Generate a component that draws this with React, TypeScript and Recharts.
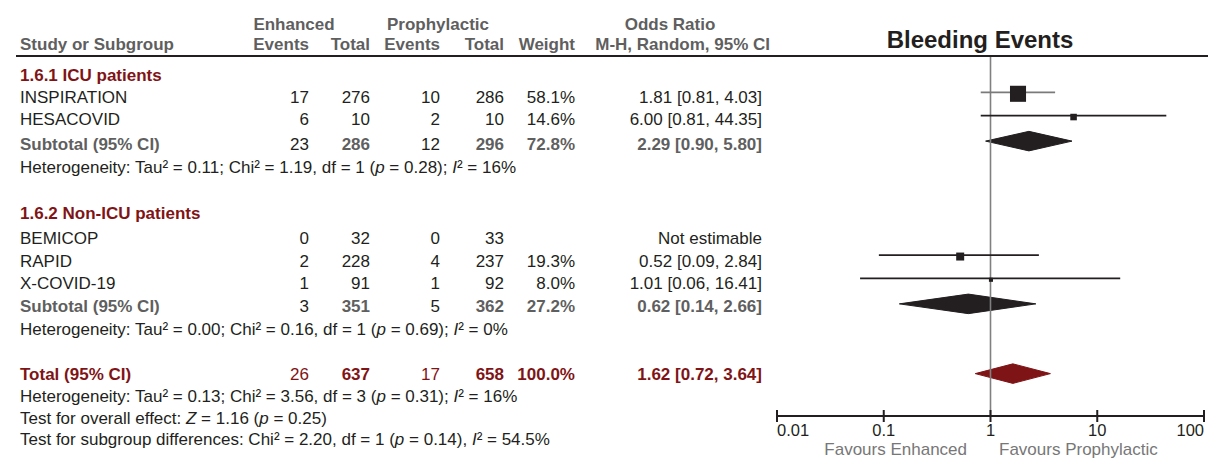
import React from 'react';
import {
  ComposedChart,
  XAxis,
  YAxis,
  Scatter,
  Area,
  ReferenceLine,
} from 'recharts';

// ---- Study-level data ----
const studyNames = ['INSPIRATION', 'HESACOVID', 'BEMICOP', 'RAPID', 'X-COVID-19'];
const studyGroup = [0, 0, 1, 1, 1];
const studyRow = [1, 2, 7, 8, 9];
const enhEvents = [17, 6, 0, 2, 1];
const enhTotal = [276, 10, 32, 228, 91];
const proEvents = [10, 2, 0, 4, 1];
const proTotal = [286, 10, 33, 237, 92];
const studyWeight: (number | null)[] = [58.1, 14.6, null, 19.3, 8.0];
const studyOR: (number | null)[] = [1.81, 6.0, null, 0.52, 1.01];
const studyLow: (number | null)[] = [0.81, 0.81, null, 0.09, 0.06];
const studyHigh: (number | null)[] = [4.03, 44.35, null, 2.84, 16.41];

// ---- Subgroup data ----
const groupNames = ['1.6.1 ICU patients', '1.6.2 Non-ICU patients'];
const groupHeadRow = [0, 6];
const groupSubRow = [3, 10];
const groupHetRow = [4, 11];
const subEnhEvents = [23, 3];
const subEnhTotal = [286, 351];
const subProEvents = [12, 5];
const subProTotal = [296, 362];
const subWeight = [72.8, 27.2];
const subOR = [2.29, 0.62];
const subLow = [0.9, 0.14];
const subHigh = [5.8, 2.66];
const subTau2 = ['0.11', '0.00'];
const subChi2 = ['1.19', '0.16'];
const subDf = ['1', '1'];
const subP = ['0.28', '0.69'];
const subI2 = ['16%', '0%'];

// ---- Overall data ----
const totalRow = 13;
const totalEnh = [26, 637];
const totalPro = [17, 658];
const totalWeight = 100.0;
const totalOR = 1.62;
const totalLow = 0.72;
const totalHigh = 3.64;
const totalHet = { tau2: '0.13', chi2: '3.56', df: '3', p: '0.31', i2: '16%' };
const overallZ = { z: '1.16', p: '0.25' };
const subgroupTest = { chi2: '2.20', df: '1', p: '0.14', i2: '54.5%' };

// ---- Axis ----
const axisTicks = [0.01, 0.1, 1, 10, 100];
const favoursLeft = 'Favours Enhanced';
const favoursRight = 'Favours Prophylactic';
const title = 'Bleeding Events';

// ---- Styling ----
const W = 1208;
const H = 459;
const FONT = '"Liberation Sans", Arial, sans-serif';
const FS = 17;
const DARK = '#231f20';
const GREY = '#5f5f5f';
const RED = '#7f1416';
const MUTED_CI = new Set(['INSPIRATION']);
const DIAMOND_HALF = 0.42; // rows
const DIAMOND_SHIFT = 0.1; // rows

// table row text centre lines (px)
const rowCenter: Record<number, number> = {
  0: 74.5, 1: 96.7, 2: 119.3, 3: 143.5, 4: 166.5,
  6: 212.5, 7: 238.3, 8: 260.5, 9: 283, 10: 306, 11: 329,
  13: 374, 14: 396, 15: 417.5, 16: 439,
};
const base = (r: number) => rowCenter[r] + 6;

// column right edges
const COL = { study: 20, enhE: 309, enhT: 370, proE: 440, proT: 504, weight: 575, or: 762 };

const fmtCI = (o: number, l: number, h: number) =>
  `${o.toFixed(2)} [${l.toFixed(2)}, ${h.toFixed(2)}]`;

type Seg = [string, boolean?];
const SegText = ({ x, y, segs, fill }: { x: number; y: number; segs: Seg[]; fill: string }) => (
  <text x={x} y={y} fontFamily={FONT} fontSize={FS} fill={fill}>
    {segs.map(([t, it], i) => (
      <tspan key={i} fontStyle={it ? 'italic' : 'normal'}>{t}</tspan>
    ))}
  </text>
);

const hetSegs = (tau2: string, chi2: string, df: string, p: string, i2: string): Seg[] => [
  [`Heterogeneity: Tau² = ${tau2}; Chi² = ${chi2}, df = ${df} (`],
  ['p', true],
  [` = ${p}); `],
  ['I', true],
  [`² = ${i2}`],
];

const Cell = ({ x, r, text, fill = DARK, bold = false, anchor = 'end' }: any) => (
  <text
    x={x}
    y={base(r)}
    textAnchor={anchor}
    fontFamily={FONT}
    fontSize={FS}
    fontWeight={bold ? 'bold' : 'normal'}
    fill={fill}
  >
    {text}
  </text>
);

// study squares, side grows with weight
const StudySquare = (props: any) => {
  const { cx, cy, payload } = props;
  const side = Math.max(3.5, 2.5 * Math.sqrt(payload.w) - 3);
  return <rect x={cx - side / 2} y={cy + 1.5 - side / 2} width={side} height={side} fill={DARK} />;
};

const AxisTick = (props: any) => {
  const { x, y, payload } = props;
  const v = payload.value;
  const anchor = v === axisTicks[0] ? 'start' : v === axisTicks[axisTicks.length - 1] ? 'end' : 'middle';
  return (
    <g>
      <line x1={x} x2={x} y1={y - 6} y2={y + 6} stroke={DARK} strokeWidth={2} />
      <text x={x} y={y + 20} textAnchor={anchor} fontFamily={FONT} fontSize={16.5} fill={DARK}>
        {String(v)}
      </text>
    </g>
  );
};

const diamondData = (row: number, o: number, l: number, h: number) => {
  const r = row + DIAMOND_SHIFT;
  return [
    { x: l, y: [r, r] },
    { x: o, y: [r - DIAMOND_HALF, r + DIAMOND_HALF] },
    { x: h, y: [r, r] },
  ];
};

export default function App() {
  const studyPoints = studyNames
    .map((name, i) => ({ name, x: studyOR[i], y: studyRow[i], w: studyWeight[i], lo: studyLow[i], hi: studyHigh[i] }))
    .filter((d) => d.x !== null);

  return (
    <div style={{ position: 'absolute', left: 0, top: 0, width: W, height: H, background: '#fff' }}>
      <ComposedChart
        width={W}
        height={H}
        margin={{ top: 56, right: 4, bottom: 3, left: 777 }}
      >
        <XAxis
          dataKey="x"
          type="number"
          scale="log"
          domain={[axisTicks[0], axisTicks[axisTicks.length - 1]]}
          allowDataOverflow
          ticks={axisTicks}
          interval={0}
          height={40}
          tickSize={0}
          tickMargin={0}
          tickLine={false}
          axisLine={{ stroke: DARK, strokeWidth: 2 }}
          tick={<AxisTick />}
        />
        <YAxis dataKey="y" type="number" domain={[-0.561, 14.923]} reversed hide allowDataOverflow />
        <ReferenceLine x={1} stroke="#808080" strokeWidth={1.6} />
        {studyPoints.map((d) => (
          <ReferenceLine
            key={`ci-${d.name}`}
            segment={[{ x: d.lo as number, y: d.y }, { x: d.hi as number, y: d.y }]}
            stroke={MUTED_CI.has(d.name) ? '#7a7a7a' : DARK}
            strokeWidth={1.8}
          />
        ))}
        <Scatter data={studyPoints} shape={<StudySquare />} isAnimationActive={false} />
        {groupNames.map((g, i) => (
          <Area
            key={`sub-${g}`}
            data={diamondData(groupSubRow[i], subOR[i], subLow[i], subHigh[i])}
            dataKey="y"
            type="linear"
            stroke={DARK}
            strokeWidth={1}
            fill={DARK}
            fillOpacity={1}
            dot={false}
            activeDot={false}
            isAnimationActive={false}
          />
        ))}
        <Area
          data={diamondData(totalRow, totalOR, totalLow, totalHigh)}
          dataKey="y"
          type="linear"
          stroke={RED}
          strokeWidth={1}
          fill={RED}
          fillOpacity={1}
          dot={false}
          activeDot={false}
          isAnimationActive={false}
        />
      </ComposedChart>

      <svg
        width={W}
        height={H}
        style={{ position: 'absolute', left: 0, top: 0, pointerEvents: 'none' }}
      >
        {/* column headers */}
        <g fontFamily={FONT} fontSize={FS} fontWeight="bold" fill={GREY}>
          <text x={294} y={29.5} textAnchor="middle">Enhanced</text>
          <text x={438} y={29.5} textAnchor="middle">Prophylactic</text>
          <text x={670} y={29.5} textAnchor="middle">Odds Ratio</text>
          <text x={COL.study} y={50}>Study or Subgroup</text>
          <text x={COL.enhE} y={50} textAnchor="end">Events</text>
          <text x={COL.enhT} y={50} textAnchor="end">Total</text>
          <text x={COL.proE} y={50} textAnchor="end">Events</text>
          <text x={COL.proT} y={50} textAnchor="end">Total</text>
          <text x={COL.weight} y={50} textAnchor="end">Weight</text>
          <text x={770} y={50} textAnchor="end">M-H, Random, 95% CI</text>
        </g>
        <text x={980} y={48} textAnchor="middle" fontFamily={FONT} fontSize={24} fontWeight="bold" fill={DARK}>
          {title}
        </text>
        <line x1={16} x2={W} y1={56} y2={56} stroke={DARK} strokeWidth={2} />

        {/* subgroups */}
        {groupNames.map((g, gi) => (
          <g key={g}>
            <Cell x={COL.study} r={groupHeadRow[gi]} text={g} anchor="start" bold fill={RED} />
            {studyNames.map((s, i) =>
              studyGroup[i] !== gi ? null : (
                <g key={s}>
                  <Cell x={COL.study} r={studyRow[i]} text={s} anchor="start" />
                  <Cell x={COL.enhE} r={studyRow[i]} text={enhEvents[i]} />
                  <Cell x={COL.enhT} r={studyRow[i]} text={enhTotal[i]} />
                  <Cell x={COL.proE} r={studyRow[i]} text={proEvents[i]} />
                  <Cell x={COL.proT} r={studyRow[i]} text={proTotal[i]} />
                  {studyWeight[i] !== null && (
                    <Cell x={COL.weight} r={studyRow[i]} text={`${(studyWeight[i] as number).toFixed(1)}%`} />
                  )}
                  <Cell
                    x={COL.or}
                    r={studyRow[i]}
                    text={
                      studyOR[i] === null
                        ? 'Not estimable'
                        : fmtCI(studyOR[i] as number, studyLow[i] as number, studyHigh[i] as number)
                    }
                  />
                </g>
              )
            )}
            <Cell x={COL.study} r={groupSubRow[gi]} text="Subtotal (95% CI)" anchor="start" bold fill={GREY} />
            <Cell x={COL.enhE} r={groupSubRow[gi]} text={subEnhEvents[gi]} />
            <Cell x={COL.enhT} r={groupSubRow[gi]} text={subEnhTotal[gi]} bold fill={GREY} />
            <Cell x={COL.proE} r={groupSubRow[gi]} text={subProEvents[gi]} />
            <Cell x={COL.proT} r={groupSubRow[gi]} text={subProTotal[gi]} bold fill={GREY} />
            <Cell x={COL.weight} r={groupSubRow[gi]} text={`${subWeight[gi].toFixed(1)}%`} bold fill={GREY} />
            <Cell x={COL.or} r={groupSubRow[gi]} text={fmtCI(subOR[gi], subLow[gi], subHigh[gi])} bold fill={GREY} />
            <SegText
              x={COL.study}
              y={base(groupHetRow[gi])}
              fill={DARK}
              segs={hetSegs(subTau2[gi], subChi2[gi], subDf[gi], subP[gi], subI2[gi])}
            />
          </g>
        ))}

        {/* overall */}
        <Cell x={COL.study} r={totalRow} text="Total (95% CI)" anchor="start" bold fill={RED} />
        <Cell x={COL.enhE} r={totalRow} text={totalEnh[0]} fill={RED} />
        <Cell x={COL.enhT} r={totalRow} text={totalEnh[1]} bold fill={RED} />
        <Cell x={COL.proE} r={totalRow} text={totalPro[0]} fill={RED} />
        <Cell x={COL.proT} r={totalRow} text={totalPro[1]} bold fill={RED} />
        <Cell x={COL.weight} r={totalRow} text={`${totalWeight.toFixed(1)}%`} bold fill={RED} />
        <Cell x={COL.or} r={totalRow} text={fmtCI(totalOR, totalLow, totalHigh)} bold fill={RED} />
        <SegText
          x={COL.study}
          y={base(14)}
          fill={DARK}
          segs={hetSegs(totalHet.tau2, totalHet.chi2, totalHet.df, totalHet.p, totalHet.i2)}
        />
        <SegText
          x={COL.study}
          y={base(15)}
          fill={DARK}
          segs={[['Test for overall effect: '], ['Z', true], [` = ${overallZ.z} (`], ['p', true], [` = ${overallZ.p})`]]}
        />
        <SegText
          x={COL.study}
          y={base(16)}
          fill={DARK}
          segs={[
            [`Test for subgroup differences: Chi² = ${subgroupTest.chi2}, df = ${subgroupTest.df} (`],
            ['p', true],
            [` = ${subgroupTest.p}), `],
            ['I', true],
            [`² = ${subgroupTest.i2}`],
          ]}
        />

        {/* favours labels */}
        <text x={967} y={455} textAnchor="end" fontFamily={FONT} fontSize={FS} fill="#777">{favoursLeft}</text>
        <text x={999} y={455} textAnchor="start" fontFamily={FONT} fontSize={FS} fill="#777">{favoursRight}</text>
      </svg>
    </div>
  );
}
